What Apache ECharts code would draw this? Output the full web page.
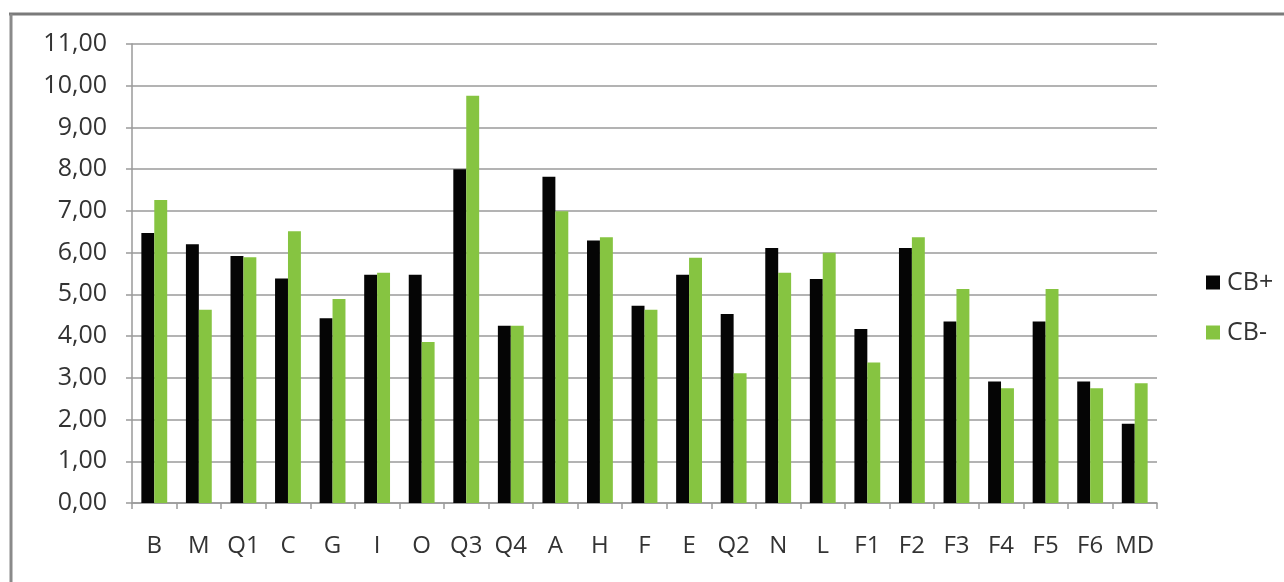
<!DOCTYPE html>
<html>
<head>
<meta charset="utf-8">
<script src="https://cdn.jsdelivr.net/npm/echarts@6/dist/echarts.min.js"></script>
<style>
  html, body { margin: 0; padding: 0; background: #ffffff; }
  #chart { width: 1284px; height: 582px; }
</style>
</head>
<body>
<div id="chart"></div>
<script>
// Factor labels along the x axis
const categories = ['B', 'M', 'Q1', 'C', 'G', 'I', 'O', 'Q3', 'Q4', 'A', 'H', 'F', 'E', 'Q2', 'N', 'L', 'F1', 'F2', 'F3', 'F4', 'F5', 'F6', 'MD'];

// Mean scores per group
const cbPlus  = [6.47, 6.20, 5.92, 5.38, 4.43, 5.47, 5.47, 8.00, 4.25, 7.82, 6.29, 4.73, 5.47, 4.53, 6.11, 5.37, 4.17, 6.11, 4.35, 2.91, 4.35, 2.91, 1.90];
const cbMinus = [7.26, 4.63, 5.89, 6.51, 4.89, 5.52, 3.86, 9.76, 4.25, 6.99, 6.37, 4.63, 5.88, 3.11, 5.52, 6.00, 3.37, 6.37, 5.13, 2.75, 5.13, 2.75, 2.87];

const seriesNames = ['CB+', 'CB-'];

const textColor = '#333333';
const gridColor = '#9a9a9a';
const fontFamily = '"Open Sans", "Noto Sans", sans-serif';

const chart = echarts.init(document.getElementById('chart'), null, { renderer: 'canvas' });

chart.setOption({
  backgroundColor: '#ffffff',
  animation: false,
  textStyle: { fontFamily: fontFamily },
  graphic: [
    // outer frame (top and left edges)
    { type: 'line', shape: { x1: 9, y1: 14, x2: 1284, y2: 14 }, style: { stroke: '#7a7a7a', lineWidth: 3 } },
    { type: 'line', shape: { x1: 11, y1: 14, x2: 11, y2: 582 }, style: { stroke: '#8a8a8a', lineWidth: 3 } }
  ],
  grid: { left: 132, right: 127, top: 44, bottom: 79, containLabel: false },
  legend: {
    orient: 'vertical',
    left: 1201,
    top: 265,
    itemWidth: 14,
    itemHeight: 14,
    itemGap: 25,
    icon: 'rect',
    data: seriesNames,
    textStyle: { color: textColor, fontSize: 25, fontFamily: fontFamily, padding: [0, 0, 0, 2] }
  },
  xAxis: {
    type: 'category',
    data: categories,
    boundaryGap: true,
    axisLine: { show: true, lineStyle: { color: gridColor, width: 1.5 } },
    axisTick: { show: true, length: 6, alignWithLabel: false, lineStyle: { color: gridColor, width: 1.5 } },
    axisLabel: { color: textColor, fontSize: 24, margin: 31, interval: 0, fontFamily: fontFamily }
  },
  yAxis: {
    type: 'value',
    min: 0,
    max: 11,
    interval: 1,
    axisLine: { show: true, lineStyle: { color: gridColor, width: 1.5 } },
    axisTick: { show: true, length: 6, lineStyle: { color: gridColor, width: 1.5 } },
    splitLine: { show: true, lineStyle: { color: gridColor, width: 1.5 } },
    axisLabel: {
      color: textColor,
      fontSize: 25,
      margin: 25,
      fontFamily: fontFamily,
      formatter: function (v) { return v.toFixed(2).replace('.', ','); }
    }
  },
  series: [
    {
      name: seriesNames[0],
      type: 'bar',
      data: cbPlus,
      barGap: '0%',
      barCategoryGap: '42%',
      itemStyle: { color: '#050505' }
    },
    {
      name: seriesNames[1],
      type: 'bar',
      data: cbMinus,
      barGap: '0%',
      barCategoryGap: '42%',
      itemStyle: { color: '#86c441' }
    }
  ]
});
</script>
</body>
</html>
